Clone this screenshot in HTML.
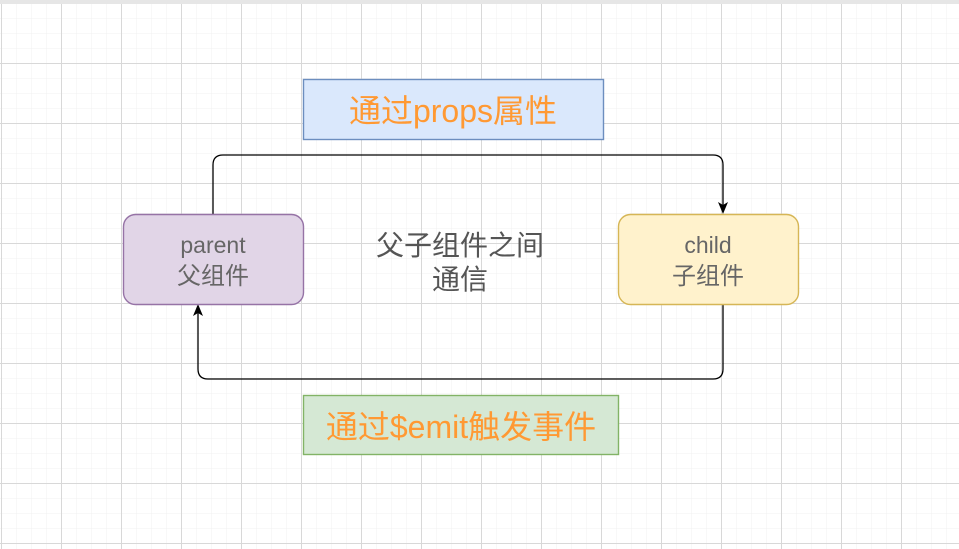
<!DOCTYPE html>
<html><head><meta charset="utf-8"><style>
html,body{margin:0;padding:0;background:#fff;}
body{width:959px;height:549px;overflow:hidden;position:relative;}
svg{position:absolute;left:0;top:0;}
text{font-family:"Liberation Sans","Noto Sans CJK SC",sans-serif;}
</style></head><body>
<svg width="959" height="549" viewBox="0 0 959 549" xmlns="http://www.w3.org/2000/svg">
<defs>
<pattern id="minor" x="1" y="3" width="15" height="15" patternUnits="userSpaceOnUse">
<path d="M0 0H15M0 0V15" stroke="#f0f0f0" stroke-width="1" fill="none"/>
</pattern>
<pattern id="major" x="1" y="3" width="60" height="60" patternUnits="userSpaceOnUse">
<path d="M0 0.5H60M0.5 0V60" stroke="#d8d8d8" stroke-width="1" fill="none"/>
</pattern>
</defs>
<rect width="959" height="549" fill="url(#minor)"/>
<rect width="959" height="549" fill="url(#major)"/>
<rect x="0" y="0" width="959" height="4" fill="#e6e6e6"/>

<rect x="303.5" y="79.5" width="300" height="60" fill="#dae8fc" stroke="#6c8ebf" stroke-width="1.4"/>
<text x="453" y="122" font-size="32" fill="#ff9933" text-anchor="middle">通过props属性</text>

<rect x="303.5" y="395.5" width="315" height="59" fill="#d5e8d4" stroke="#82b366" stroke-width="1.4"/>
<text x="461" y="438" font-size="32" fill="#ff9933" text-anchor="middle">通过$emit触发事件</text>

<path d="M213 214V165Q213 155 223 155H713Q723 155 723 165V206" fill="none" stroke="#000" stroke-width="1.3"/>
<path d="M723 214L718 202L723 205L728 202Z" fill="#000"/>
<path d="M723 304V369Q723 379 713 379H208Q198 379 198 369V312" fill="none" stroke="#000" stroke-width="1.3"/>
<path d="M198 304L193 316L198 313L203 316Z" fill="#000"/>

<rect x="123.5" y="214.5" width="180" height="90" rx="12" fill="#e1d5e7" stroke="#9673a6" stroke-width="1.4"/>
<text x="213" y="253" font-size="23" fill="#666" text-anchor="middle">parent</text>
<text x="213" y="284" font-size="24" fill="#666" text-anchor="middle">父组件</text>

<rect x="618.5" y="214.5" width="180" height="90" rx="12" fill="#fff2cc" stroke="#d6b656" stroke-width="1.4"/>
<text x="708" y="253" font-size="23" fill="#666" text-anchor="middle">child</text>
<text x="708" y="284" font-size="24" fill="#666" text-anchor="middle">子组件</text>

<text x="460" y="255" font-size="28" fill="#555" text-anchor="middle">父子组件之间</text>
<text x="460" y="289" font-size="28" fill="#555" text-anchor="middle">通信</text>
</svg>
</body></html>
